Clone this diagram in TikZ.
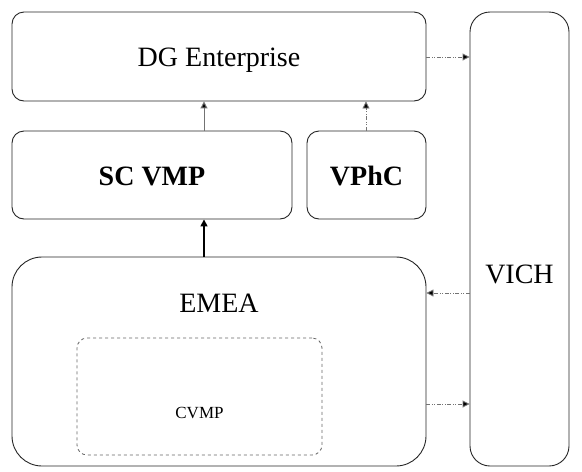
\documentclass[tikz,border=0pt]{standalone}
\usepackage{fontspec}
\setmainfont{Liberation Serif}
\usetikzlibrary{arrows.meta}
\begin{document}
\begin{tikzpicture}[x=1pt,y=-1pt,
  box/.style={draw=black!85, line width=0.9pt, rounded corners=12pt, fill=white, inner sep=0pt},
  lbl/.style={font=\fontsize{28}{30}\selectfont, inner sep=0pt, anchor=base},
  conn/.style={draw=black!55, line width=0.9pt, dash pattern=on 4pt off 1.5pt on 1pt off 1.5pt on 1pt off 1.5pt, -{Triangle[fill=black,length=7pt,width=7pt]}},
  solidconn/.style={draw=black!55, line width=1pt, -{Triangle[fill=black,length=7pt,width=7pt]}},
  strongconn/.style={draw=black, line width=1.6pt, -{Triangle[fill=black,length=7pt,width=7pt]}}]
\useasboundingbox (0,0) rectangle (582,472);
\node[box, minimum width=414pt, minimum height=89pt] (dg) at (219,56.5) {};
\node[box, minimum width=280pt, minimum height=88pt] (scvmp) at (152,175) {};
\node[box, minimum width=119pt, minimum height=88pt] (vphc) at (366.5,175) {};
\node[box, rounded corners=20pt, minimum width=99pt, minimum height=454pt] (vich) at (519.5,239) {};
\node[box, rounded corners=30pt, minimum width=414pt, minimum height=209pt] (emea) at (219,361.5) {};
\node[draw=black!60, line width=0.8pt, dashed, rounded corners=10pt, minimum width=245pt, minimum height=117pt, inner sep=0pt] (cvmp) at (199.5,396.5) {};
\node[lbl] (tdg) at (219,66) {DG Enterprise};
\node[lbl, font=\fontsize{28}{30}\selectfont\bfseries] (tsc) at (152,185) {SC VMP};
\node[lbl, font=\fontsize{28}{30}\selectfont\bfseries] (tvp) at (366.5,185) {VPhC};
\node[lbl] (tvi) at (519.5,283) {VICH};
\node[lbl] (tem) at (219,312) {EMEA};
\node[font=\fontsize{17}{19}\selectfont, inner sep=0pt, anchor=base] (tcv) at (199.5,418) {CVMP};
\coordinate (xa) at (204,0);
\coordinate (xb) at (366,0);
\coordinate (ya) at (0,57);
\coordinate (yb) at (0,293);
\coordinate (yc) at (0,404);
\draw[solidconn] (scvmp.north -| xa) -- (dg.south -| xa);
\draw[conn] (vphc.north -| xb) -- (dg.south -| xb);
\draw[strongconn] (emea.north -| xa) -- (scvmp.south -| xa);
\draw[conn] (dg.east |- ya) -- (vich.west |- ya);
\draw[conn] (vich.west |- yb) -- (emea.east |- yb);
\draw[conn] (emea.east |- yc) -- (vich.west |- yc);
\end{tikzpicture}
\end{document}
